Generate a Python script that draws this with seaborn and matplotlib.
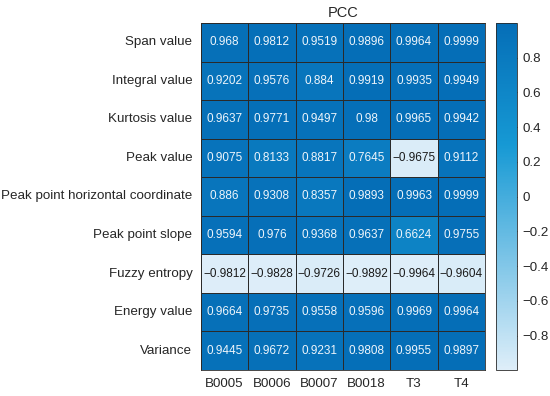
import numpy as np
import pandas as pd
import matplotlib
matplotlib.use("Agg")
import matplotlib.pyplot as plt
from matplotlib.colors import LinearSegmentedColormap
import seaborn as sns

features = ["Span value", "Integral value", "Kurtosis value", "Peak value",
            "Peak point horizontal coordinate", "Peak point slope",
            "Fuzzy entropy", "Energy value", "Variance"]
batteries = ["B0005", "B0006", "B0007", "B0018", "T3", "T4"]

b0005 = [0.968, 0.9202, 0.9637, 0.9075, 0.886, 0.9594, -0.9812, 0.9664, 0.9445]
b0006 = [0.9812, 0.9576, 0.9771, 0.8133, 0.9308, 0.976, -0.9828, 0.9735, 0.9672]
b0007 = [0.9519, 0.884, 0.9497, 0.8817, 0.8357, 0.9368, -0.9726, 0.9558, 0.9231]
b0018 = [0.9896, 0.9919, 0.98, 0.7645, 0.9893, 0.9637, -0.9892, 0.9596, 0.9808]
t3 = [0.9964, 0.9935, 0.9965, -0.9675, 0.9963, 0.6624, -0.9964, 0.9969, 0.9955]
t4 = [0.9999, 0.9949, 0.9942, 0.9112, 0.9999, 0.9755, -0.9604, 0.9964, 0.9897]

sns.set_theme(style="white")
plt.rcParams["font.family"] = ["Liberation Sans", "DejaVu Sans"]

df = pd.DataFrame(np.column_stack([b0005, b0006, b0007, b0018, t3, t4]),
                  index=features, columns=batteries)

vmin, vmax = df.values.min(), df.values.max()
pos_mid = (0.3 - vmin) / (vmax - vmin)
cmap = LinearSegmentedColormap.from_list(
    "pcc", [(0.0, "#deeef9"), (pos_mid, "#1699d4"), (1.0, "#056eb7")])

fig = plt.figure(figsize=(5.5, 3.96), dpi=100)
ax = fig.add_axes([0.365, 0.066, 0.517, 0.876])
cax = fig.add_axes([0.902, 0.066, 0.038, 0.876])

sns.heatmap(df, ax=ax, cbar_ax=cax, cmap=cmap, vmin=vmin, vmax=vmax,
            annot=False, linewidths=0.5, linecolor="#2a2a2a")

for i, feat in enumerate(features):
    for j, bat in enumerate(batteries):
        v = df.loc[feat, bat]
        ax.text(j + 0.5, i + 0.5, f"{v:.4f}".rstrip("0").replace("-", "\u2212"),
                ha="center", va="center", fontsize=8.5,
                color="#eef5fb" if v > 0 else "#1a1a1a")

for s in ax.spines.values():
    s.set_visible(True)
    s.set_color("#2a2a2a")
    s.set_linewidth(0.6)

ax.set_title("PCC", fontsize=10.5, color="#262626", pad=4)
ax.set_xlabel("")
ax.set_ylabel("")
ax.tick_params(axis="both", length=0, labelsize=9.6, colors="#262626", pad=6)
ax.set_xticklabels(batteries, rotation=0)
ax.set_yticklabels(features, rotation=0)

cbar = ax.collections[0].colorbar
cbar.set_ticks([-0.8, -0.6, -0.4, -0.2, 0, 0.2, 0.4, 0.6, 0.8])
cbar.set_ticklabels(["\u22120.8", "\u22120.6", "\u22120.4", "\u22120.2", "0",
                     "0.2", "0.4", "0.6", "0.8"])
cbar.outline.set_visible(True)
cbar.outline.set_edgecolor("#2a2a2a")
cbar.outline.set_linewidth(0.6)
cax.tick_params(direction="in", length=3, width=0.6, colors="#262626",
                labelsize=9.6, pad=4)

fig.savefig("out.png", dpi=100)
